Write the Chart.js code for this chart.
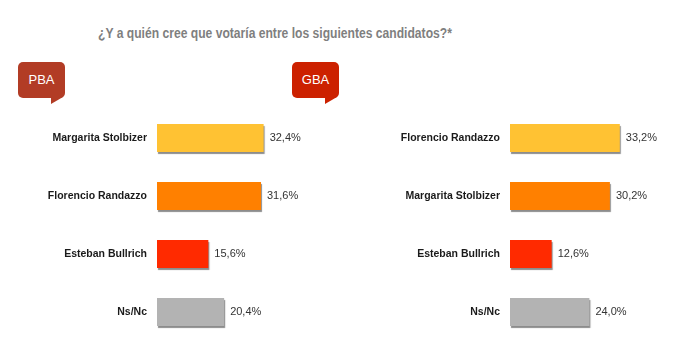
<!DOCTYPE html>
<html>
<head>
<meta charset="utf-8">
<script src="https://cdn.jsdelivr.net/npm/chart.js@4/dist/chart.umd.min.js"></script>
<style>
  body { margin: 0; background: #fff; width: 683px; height: 364px; position: relative; overflow: hidden; font-family: "Liberation Sans", Arial, sans-serif; }
  #title { position: absolute; left: 0; width: 550px; top: 25px; text-align: center; font-size: 14px; font-weight: bold; color: #7f7f7f; transform: scaleX(0.865); transform-origin: 275px 0; white-space: nowrap; }
  .bubble { position: absolute; top: 62px; width: 47px; height: 36px; border-radius: 5px; color: #fff; font-size: 13px; line-height: 36px; text-align: center; }
  .bubble::after { content: ""; position: absolute; left: 33px; bottom: -6px; border-top: 7px solid; border-top-color: inherit; border-right: 12px solid transparent; }
  #pba { left: 18px; background: #b23c25; border-color: #b23c25; }
  #gba { left: 292px; background: #cc2100; border-color: #cc2100; }
  canvas { position: absolute; top: 109px; }
  #left { left: 0; }
  #right { left: 340px; }
</style>
</head>
<body>
<div id="title">¿Y a quién cree que votaría entre los siguientes candidatos?*</div>
<div class="bubble" id="pba">PBA</div>
<div class="bubble" id="gba">GBA</div>
<canvas id="left" width="338" height="232"></canvas>
<canvas id="right" width="342" height="232"></canvas>
<script>
const pbaLabels = ["Margarita Stolbizer", "Florencio Randazzo", "Esteban Bullrich", "Ns/Nc"];
const pbaValues = [32.4, 31.6, 15.6, 20.4];
const gbaLabels = ["Florencio Randazzo", "Margarita Stolbizer", "Esteban Bullrich", "Ns/Nc"];
const gbaValues = [33.2, 30.2, 12.6, 24.0];
const barColors = ["#ffc233", "#ff8000", "#ff2a00", "#b3b3b3"];

// soft shadow under the bars, like the original slide
const shadowPlugin = {
  id: "barShadow",
  beforeDatasetsDraw(chart) {
    const ctx = chart.ctx;
    ctx.save();
    ctx.shadowColor = "rgba(0,0,0,0.45)";
    ctx.shadowOffsetX = 1;
    ctx.shadowOffsetY = 2;
    ctx.shadowBlur = 1;
  },
  afterDatasetsDraw(chart) {
    chart.ctx.restore();
  }
};

// value labels at bar ends: "32,4%"
const valuePlugin = {
  id: "valueLabels",
  afterDraw(chart) {
    const ctx = chart.ctx;
    const meta = chart.getDatasetMeta(0);
    ctx.save();
    ctx.font = "11px 'Liberation Sans', Arial, sans-serif";
    ctx.fillStyle = "#333";
    ctx.textBaseline = "middle";
    meta.data.forEach((bar, i) => {
      const v = chart.data.datasets[0].data[i];
      ctx.fillText(v.toFixed(1).replace(".", ",") + "%", bar.x + 6, bar.y);
    });
    ctx.restore();
  }
};

function makeChart(id, labels, values, axisWidth, max) {
  const ctx = document.getElementById(id).getContext("2d");
  return new Chart(ctx, {
    type: "bar",
    data: {
      labels: labels,
      datasets: [{
        data: values,
        backgroundColor: barColors,
        borderWidth: 0,
        categoryPercentage: 1,
        barPercentage: 0.483
      }]
    },
    options: {
      indexAxis: "y",
      responsive: false,
      animation: false,
      layout: { padding: 0 },
      plugins: { legend: { display: false }, tooltip: { enabled: false } },
      scales: {
        x: { display: false, min: 0, max: max },
        y: {
          grid: { display: false, drawTicks: false },
          border: { display: false },
          ticks: {
            padding: 10,
            color: "#1a1a1a",
            font: { family: "'Liberation Sans', Arial, sans-serif", size: 10.5, weight: "bold" }
          },
          afterFit(scale) {
            scale.width = axisWidth;
            scale.paddingTop = 0;
            scale.paddingBottom = 0;
          }
        }
      }
    },
    plugins: [shadowPlugin, valuePlugin]
  });
}

makeChart("left", pbaLabels, pbaValues, 157, 55);
makeChart("right", gbaLabels, gbaValues, 170, 52);
</script>
</body>
</html>
